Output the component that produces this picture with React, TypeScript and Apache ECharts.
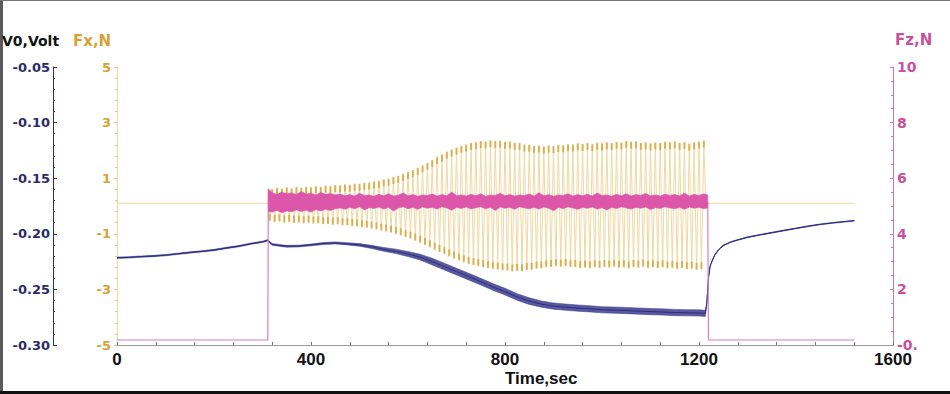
import React, { useEffect, useRef } from "react";
import * as echarts from "echarts";

// ---------- data ----------
const X_TICKS = [0, 400, 800, 1200, 1600];

// Fx (N): flat baseline, then oscillation cycles (trough, peak per cycle)
const FX_BASE = 0.1;
const FX_ON = 312;
const FX_OFF = 1214;
const FX_END = 1520;
const FX_CYCLE_T0 = 315;
const FX_PERIOD = 10;
const FX_PEAKS = [
  0.56, 0.6, 0.57, 0.62, 0.58, 0.63, 0.6, 0.64, 0.62, 0.66,
  0.64, 0.68, 0.66, 0.7, 0.69, 0.72, 0.71, 0.75, 0.74, 0.78,
  0.79, 0.83, 0.85, 0.9, 0.93, 0.99, 1.03, 1.1, 1.17, 1.24,
  1.32, 1.41, 1.5, 1.6, 1.71, 1.8, 1.9, 1.98, 2.05, 2.11,
  2.16, 2.21, 2.24, 2.28, 2.27, 2.31, 2.29, 2.3, 2.26, 2.27,
  2.22, 2.21, 2.16, 2.15, 2.11, 2.12, 2.09, 2.12, 2.1, 2.14,
  2.13, 2.17, 2.16, 2.2, 2.18, 2.21, 2.17, 2.22, 2.2, 2.24,
  2.21, 2.25, 2.23, 2.29, 2.26, 2.27, 2.22, 2.24, 2.2, 2.23,
  2.21, 2.26, 2.24, 2.27, 2.22, 2.25, 2.19, 2.24, 2.27, 2.3,
];
const FX_TROUGHS = [
  -0.48, -0.52, -0.5, -0.54, -0.52, -0.55, -0.54, -0.57, -0.55, -0.58,
  -0.57, -0.6, -0.59, -0.62, -0.61, -0.64, -0.64, -0.67, -0.68, -0.71,
  -0.73, -0.76, -0.79, -0.83, -0.86, -0.9, -0.95, -1.0, -1.06, -1.12,
  -1.19, -1.27, -1.35, -1.43, -1.52, -1.6, -1.68, -1.76, -1.84, -1.91,
  -1.97, -2.03, -2.07, -2.11, -2.15, -2.18, -2.21, -2.23, -2.26, -2.27,
  -2.3, -2.28, -2.29, -2.25, -2.24, -2.2, -2.19, -2.15, -2.14, -2.11,
  -2.13, -2.11, -2.15, -2.14, -2.18, -2.16, -2.19, -2.15, -2.17, -2.14,
  -2.16, -2.13, -2.17, -2.15, -2.19, -2.14, -2.16, -2.13, -2.17, -2.15,
  -2.18, -2.15, -2.19, -2.17, -2.21, -2.18, -2.22, -2.2, -2.24, -2.22,
];

// V0 (Volt)
const V0_TIMES = [
  0, 25, 50, 75, 100, 125, 150, 175, 200, 225, 250, 275, 300, 311, 314, 320,
  335, 350, 375, 400, 425, 450, 475, 500, 525, 550, 575, 600, 625, 650, 675,
  700, 725, 750, 775, 800, 825, 850, 875, 900, 925, 950, 975, 1000, 1025,
  1050, 1075, 1100, 1125, 1150, 1175, 1200, 1213, 1216, 1218, 1220, 1223,
  1227, 1232, 1240, 1250, 1265, 1280, 1300, 1325, 1350, 1375, 1400, 1425,
  1450, 1475, 1500, 1520,
];
const V0_VALUES = [
  -0.2215, -0.2212, -0.2205, -0.22, -0.2192, -0.218, -0.2168, -0.2158,
  -0.2146, -0.2128, -0.2112, -0.209, -0.2072, -0.2058, -0.2075, -0.2095,
  -0.2105, -0.2112, -0.211, -0.21, -0.2088, -0.2082, -0.209, -0.21, -0.2118,
  -0.214, -0.2158, -0.2182, -0.221, -0.225, -0.2295, -0.234, -0.2385,
  -0.243, -0.2478, -0.252, -0.2568, -0.2605, -0.2632, -0.265, -0.266,
  -0.2668, -0.2675, -0.2683, -0.2686, -0.269, -0.2695, -0.27, -0.2703,
  -0.2708, -0.271, -0.2712, -0.2715, -0.263, -0.25, -0.238, -0.229,
  -0.2245, -0.2195, -0.2145, -0.2105, -0.2075, -0.2055, -0.2031, -0.201,
  -0.199, -0.197, -0.1951, -0.1932, -0.1915, -0.1902, -0.1891, -0.1882,
];
// half-height of the V0 ripple at each time
const V0_RIPPLE = [
  0.0006, 0.0006, 0.0006, 0.0006, 0.0006, 0.0006, 0.0006, 0.0006, 0.0006,
  0.0006, 0.0006, 0.0006, 0.0006, 0.0007, 0.0008, 0.0008, 0.0008, 0.0008,
  0.0008, 0.0008, 0.0009, 0.0009, 0.001, 0.0012, 0.0014, 0.0017, 0.002,
  0.0023, 0.0026, 0.003, 0.003, 0.003, 0.003, 0.003, 0.003, 0.003, 0.003,
  0.003, 0.0028, 0.0028, 0.0028, 0.0028, 0.0028, 0.0028, 0.0028, 0.0028,
  0.0028, 0.0028, 0.0028, 0.0028, 0.0028, 0.0028, 0.0028, 0.0004, 0.0004,
  0.0004, 0.0004, 0.0004, 0.0004, 0.0004, 0.0004, 0.0004, 0.0004, 0.0004,
  0.0004, 0.0004, 0.0004, 0.0004, 0.0004, 0.0004, 0.0004, 0.0004, 0.0004,
];

// Fz (N): trace and the dense oscillation band
const FZ_TRACE_T = [0, 311, 312, 314, 1218, 1219.5, 1520];
const FZ_TRACE_V = [0.18, 0.18, 5.6, 5.15, 5.15, 0.18, 0.18];
const FZ_BAND_T = [
  312, 320, 330, 340, 350, 360, 370, 380, 390, 400, 410, 420, 430, 440, 450,
  460, 470, 480, 490, 500, 510, 520, 530, 540, 550, 560, 570, 580, 590, 600,
  610, 620, 630, 640, 650, 660, 670, 680, 690, 700, 710, 720, 730, 740, 750,
  760, 770, 780, 790, 800, 810, 820, 830, 840, 850, 860, 870, 880, 890, 900,
  910, 920, 930, 940, 950, 960, 970, 980, 990, 1000, 1010, 1020, 1030, 1040,
  1050, 1060, 1070, 1080, 1090, 1100, 1110, 1120, 1130, 1140, 1150, 1160,
  1170, 1180, 1190, 1200, 1210, 1218,
];
const FZ_BAND_HIGH = [
  5.62,
  5.48, 5.42, 5.5, 5.44, 5.47, 5.41, 5.52, 5.43, 5.46, 5.4, 5.49, 5.42, 5.45, 5.4,
  5.43, 5.37, 5.41, 5.36, 5.46, 5.38, 5.4, 5.35, 5.42, 5.37,
  5.44, 5.36, 5.39, 5.47, 5.37, 5.41, 5.35, 5.4, 5.38, 5.43,
  5.36, 5.41, 5.37, 5.5, 5.38, 5.4, 5.36, 5.42, 5.37, 5.44,
  5.35, 5.4, 5.38, 5.46, 5.37, 5.41, 5.36, 5.4, 5.38, 5.43,
  5.36, 5.48, 5.37, 5.41, 5.35, 5.4, 5.38, 5.44, 5.36, 5.41,
  5.37, 5.42, 5.36, 5.47, 5.38, 5.4, 5.35, 5.42, 5.37, 5.44,
  5.36, 5.41, 5.38, 5.45, 5.37, 5.4, 5.36, 5.43, 5.38, 5.41,
  5.37, 5.46, 5.36, 5.42, 5.38, 5.44,
  5.4,
];
const FZ_BAND_LOW = [
  4.8,
  4.78, 4.84, 4.76, 4.82, 4.79, 4.86, 4.8, 4.85, 4.78, 4.87, 4.82, 4.88, 4.84, 4.9,
  4.93, 4.88, 4.95, 4.9, 4.97, 4.86, 4.94, 4.91, 4.96, 4.89,
  4.95, 4.82, 4.93, 4.97, 4.9, 4.95, 4.88, 4.96, 4.92, 4.95,
  4.89, 4.97, 4.93, 4.85, 4.95, 4.91, 4.96, 4.89, 4.94, 4.97,
  4.9, 4.95, 4.84, 4.96, 4.92, 4.95, 4.88, 4.97, 4.93, 4.9,
  4.95, 4.89, 4.96, 4.92, 4.83, 4.95, 4.9, 4.97, 4.93, 4.88,
  4.95, 4.92, 4.96, 4.89, 4.94, 4.86, 4.95, 4.91, 4.97, 4.93,
  4.89, 4.95, 4.92, 4.96, 4.87, 4.94, 4.91, 4.97, 4.93, 4.9,
  4.95, 4.88, 4.96, 4.92, 4.95, 4.9,
  4.93,
];

// ---------- colours ----------
const NAVY = "#2d2d7a";
const GOLD = "#d6a233";
const GOLD_LIGHT = "#efd9a3";
const PINK = "#dc57a9";
const PINK_LABEL = "#c9509d";

// band drawn as a polygon through the axis scales
function bandSeries(
  name: string,
  yAxisIndex: number,
  times: number[],
  high: number[],
  low: number[],
  fill: string,
  opacity: number,
  z: number
) {
  return {
    name,
    type: "custom",
    coordinateSystem: "cartesian2d",
    yAxisIndex,
    silent: true,
    z,
    data: [[times[0], low[0]]],
    encode: { x: 0, y: 1 },
    clip: true,
    renderItem: (_params: any, api: any) => {
      const pts: number[][] = [];
      for (let i = 0; i < times.length; i++) pts.push(api.coord([times[i], high[i]]));
      for (let i = times.length - 1; i >= 0; i--) pts.push(api.coord([times[i], low[i]]));
      return {
        type: "polygon",
        shape: { points: pts },
        style: { fill, opacity, stroke: fill, lineWidth: 0.6 },
      };
    },
  };
}

export default function App() {
  const ref = useRef<HTMLDivElement>(null);

  useEffect(() => {
    if (!ref.current) return;
    const chart = echarts.init(ref.current, undefined, { renderer: "svg" });

    const fxLine: number[][] = [[0, FX_BASE], [FX_ON, FX_BASE]];
    const fxPeaks: number[][] = [];
    const fxTroughs: number[][] = [];
    FX_PEAKS.forEach((p, i) => {
      const t = FX_CYCLE_T0 + i * FX_PERIOD;
      fxLine.push([t, FX_TROUGHS[i]]);
      fxLine.push([t + FX_PERIOD / 2, p]);
      fxTroughs.push([t, FX_TROUGHS[i]]);
      fxPeaks.push([t + FX_PERIOD / 2, p]);
    });
    fxLine.push([FX_OFF, FX_BASE], [FX_END, FX_BASE]);

    const v0Line = V0_TIMES.map((t, i) => [t, V0_VALUES[i]]);
    const v0High = V0_VALUES.map((v, i) => v + V0_RIPPLE[i]);
    const v0Low = V0_VALUES.map((v, i) => v - V0_RIPPLE[i]);

    const fzTrace = FZ_TRACE_T.map((t, i) => [t, FZ_TRACE_V[i]]);

    const yLabelFont = {
      fontFamily: "DejaVu Sans",
      fontWeight: "bold" as const,
      fontSize: 13,
    };

    chart.setOption({
      animation: false,
      backgroundColor: "#ffffff",
      grid: { left: 117, right: 57, top: 67, bottom: 49, containLabel: false },
      xAxis: {
        type: "value",
        min: X_TICKS[0],
        max: X_TICKS[X_TICKS.length - 1],
        interval: 400,
        axisLine: { show: true, onZero: false, lineStyle: { color: "#9a9a9a", width: 1 } },
        axisTick: { show: true, inside: true, length: 3, lineStyle: { color: "#777" } },
        minorTick: { show: true, splitNumber: 5, length: 3, lineStyle: { color: "#777" } },
        splitLine: { show: false },
        axisLabel: {
          margin: 6,
          color: "#111",
          fontFamily: "Liberation Sans",
          fontWeight: "bold",
          fontSize: 17,
          formatter: (v: number) => String(v),
        },
      },
      yAxis: [
        {
          type: "value",
          position: "left",
          min: -5,
          max: 5,
          interval: 2,
          axisLine: { show: true, onZero: false, lineStyle: { color: "#efd9a2", width: 1 } },
          axisTick: { show: true, length: 3, lineStyle: { color: "#e6c782" } },
          minorTick: { show: true, splitNumber: 5, length: 2, lineStyle: { color: "#e6c782" } },
          splitLine: { show: false },
          axisLabel: { ...yLabelFont, color: GOLD, margin: 6 },
        },
        {
          type: "value",
          position: "left",
          offset: 64,
          min: -0.3,
          max: -0.05,
          interval: 0.05,
          axisLine: { show: true, onZero: false, lineStyle: { color: NAVY, width: 1 } },
          axisTick: { show: true, inside: true, length: 4, lineStyle: { color: NAVY } },
          minorTick: { show: true, splitNumber: 5, length: 2, lineStyle: { color: NAVY } },
          splitLine: { show: false },
          axisLabel: {
            ...yLabelFont,
            color: "#2b2b6b",
            margin: 3,
            formatter: (v: number) => v.toFixed(2),
          },
        },
        {
          type: "value",
          position: "right",
          min: 0,
          max: 10,
          interval: 2,
          axisLine: { show: true, onZero: false, lineStyle: { color: "#d66fb2", width: 1 } },
          axisTick: { show: true, inside: true, length: 3, lineStyle: { color: "#d66fb2" } },
          minorTick: { show: true, splitNumber: 4, length: 2, lineStyle: { color: "#d66fb2" } },
          splitLine: { show: false },
          axisLabel: {
            ...yLabelFont,
            fontSize: 14,
            color: PINK_LABEL,
            margin: 4,
            formatter: (v: number) => (v === 0 ? "-0." : String(v)),
          },
        },
      ],
      series: [
        {
          name: "Fx",
          type: "line",
          yAxisIndex: 0,
          data: fxLine,
          showSymbol: false,
          symbol: "none",
          lineStyle: { color: GOLD_LIGHT, width: 1 },
          silent: true,
          z: 2,
        },
        {
          name: "Fx peaks",
          type: "scatter",
          yAxisIndex: 0,
          data: fxPeaks,
          symbol: "rect",
          symbolSize: [2, 7],
          symbolOffset: [0, 2],
          itemStyle: { color: GOLD },
          silent: true,
          z: 3,
        },
        {
          name: "Fx troughs",
          type: "scatter",
          yAxisIndex: 0,
          data: fxTroughs,
          symbol: "rect",
          symbolSize: [2, 7],
          symbolOffset: [0, -2],
          itemStyle: { color: GOLD },
          silent: true,
          z: 3,
        },
        bandSeries("V0 ripple", 1, V0_TIMES, v0High, v0Low, "#34348a", 0.82, 4),
        {
          name: "V0",
          type: "line",
          yAxisIndex: 1,
          data: v0Line,
          symbol: "none",
          lineStyle: { color: NAVY, width: 1 },
          silent: true,
          z: 5,
        },
        {
          name: "Fz",
          type: "line",
          yAxisIndex: 2,
          data: fzTrace,
          symbol: "none",
          lineStyle: { color: "#d77fbd", width: 1.2 },
          silent: true,
          z: 6,
        },
        bandSeries("Fz band", 2, FZ_BAND_T, FZ_BAND_HIGH, FZ_BAND_LOW, PINK, 1, 7),
      ],
      graphic: [
        { type: "rect", shape: { x: 0, y: 0, width: 3, height: 394 }, style: { fill: "#5a5a5a" }, silent: true },
        { type: "rect", shape: { x: 0, y: 0, width: 950, height: 1 }, style: { fill: "#777" }, silent: true },
        { type: "rect", shape: { x: 0, y: 391, width: 950, height: 3 }, style: { fill: "#111" }, silent: true },
        {
          type: "text",
          x: 2,
          y: 41,
          style: {
            text: "V0,Volt",
            fill: "#111",
            fontFamily: "DejaVu Sans",
            fontWeight: "bold",
            fontSize: 14,
            textVerticalAlign: "middle",
          },
          silent: true,
        },
        {
          type: "text",
          x: 73,
          y: 41,
          style: {
            text: "Fx,N",
            fill: GOLD,
            fontFamily: "DejaVu Sans",
            fontWeight: "bold",
            fontSize: 15,
            textVerticalAlign: "middle",
          },
          silent: true,
        },
        {
          type: "text",
          x: 895,
          y: 40,
          style: {
            text: "Fz,N",
            fill: PINK_LABEL,
            fontFamily: "DejaVu Sans",
            fontWeight: "bold",
            fontSize: 15,
            textVerticalAlign: "middle",
          },
          silent: true,
        },
        {
          type: "text",
          x: 505,
          y: 378,
          style: {
            text: "Time,sec",
            fill: "#111",
            fontFamily: "Liberation Sans",
            fontWeight: "bold",
            fontSize: 17,
            textVerticalAlign: "middle",
          },
          silent: true,
        },
      ],
    });

    return () => chart.dispose();
  }, []);

  return (
    <div
      ref={ref}
      style={{ position: "fixed", left: 0, top: 0, width: 950, height: 394, background: "#fff" }}
    />
  );
}
